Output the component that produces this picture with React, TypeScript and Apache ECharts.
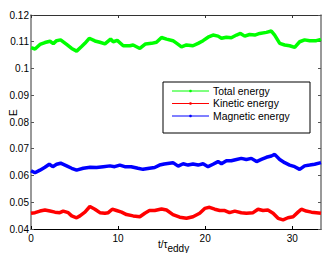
import React, { useEffect, useRef } from "react";
import * as echarts from "echarts";

const xTicks = [0, 10, 20, 30];
const yTicks = [0.04, 0.05, 0.06, 0.07, 0.08, 0.09, 0.1, 0.11, 0.12];
const seriesNames = ["Total energy", "Kinetic energy", "Magnetic energy"];
const seriesColors = ["#00ff00", "#ff0000", "#0000ff"];

const totalT = [0,0.46,1.03,1.6,2.18,2.56,2.94,3.4,4.09,4.67,5.24,5.81,6.19,6.69,7.34,7.91,8.49,9.14,9.44,9.9,10.59,11.35,11.73,12.5,13.15,13.84,14.41,14.99,15.56,16.3,16.9,17.28,17.85,18.6,19.19,19.76,20.33,20.9,21.48,21.87,22.44,23.0,23.6,24.05,24.54,25.1,25.7,26.26,27.03,27.6,27.98,28.56,29.13,29.7,30.28,30.85,31.42,32,32.76,33.3];
const totalE = [0.1078,0.1073,0.1090,0.1097,0.1102,0.1093,0.1104,0.1107,0.1090,0.1075,0.1065,0.1082,0.1094,0.1113,0.1103,0.1098,0.1092,0.1110,0.1100,0.1105,0.1085,0.1085,0.1088,0.1075,0.1092,0.1094,0.1098,0.1116,0.1110,0.1104,0.1090,0.1081,0.1088,0.1085,0.1094,0.1104,0.1117,0.1125,0.1121,0.1113,0.1117,0.1115,0.1125,0.1131,0.1121,0.1127,0.1125,0.1131,0.1135,0.1140,0.1125,0.1094,0.1088,0.1085,0.1079,0.1100,0.1107,0.1104,0.1104,0.1109];

const kineticT = [0,0.46,1.03,1.6,2.18,2.75,3.3,3.7,4.28,4.67,5.24,5.62,6.19,6.76,7.34,7.91,8.49,8.87,9.33,9.82,10.4,10.97,11.73,12.5,13.07,13.6,14.2,14.99,15.56,16.3,17.08,17.85,18.6,19.37,19.95,20.5,21.1,21.67,22.25,22.8,23.4,24.15,24.73,25.5,26.07,26.64,27.2,27.8,28.37,28.95,29.5,30.1,30.66,31.04,31.6,32.2,32.76,33.3];
const kineticE = [0.0459,0.0461,0.0467,0.0471,0.0467,0.0463,0.0461,0.0467,0.0461,0.0449,0.0442,0.0449,0.0463,0.0484,0.0474,0.0461,0.0459,0.0461,0.0474,0.0469,0.0463,0.0454,0.0449,0.0446,0.0459,0.0469,0.0469,0.0475,0.0471,0.0454,0.0444,0.0440,0.0446,0.0459,0.0477,0.0481,0.0474,0.0469,0.0469,0.0461,0.0467,0.0461,0.0459,0.0461,0.0474,0.0469,0.0471,0.0459,0.0440,0.0434,0.0442,0.0446,0.0463,0.0474,0.0467,0.0463,0.0461,0.0459];

const magneticT = [0,0.46,1.03,1.6,2.1,2.5,2.94,3.4,4.09,4.67,5.24,6,6.8,7.53,8.3,9.07,9.6,10.2,10.77,11.5,12.28,12.86,13.6,14.2,14.76,15.3,16.3,16.9,17.47,18.04,18.6,19.19,19.76,20.33,20.9,21.48,21.87,22.44,23.0,23.6,24.15,24.73,25.3,25.9,26.45,27.03,27.6,27.98,28.56,29.13,29.7,30.28,30.85,31.42,32,32.57,33.3];
const magneticE = [0.0618,0.0610,0.0620,0.0631,0.0642,0.0633,0.0642,0.0646,0.0636,0.0627,0.0620,0.0627,0.0631,0.0630,0.0633,0.0636,0.0633,0.0639,0.0633,0.0633,0.0627,0.0623,0.0627,0.0630,0.0639,0.0643,0.0648,0.0635,0.0644,0.0639,0.0643,0.0639,0.0644,0.0633,0.0642,0.0652,0.0644,0.0655,0.0655,0.0660,0.0664,0.0660,0.0664,0.0652,0.0660,0.0668,0.0673,0.0679,0.0660,0.0648,0.0639,0.0633,0.0623,0.0636,0.0639,0.0642,0.0648];

const FONT = "Liberation Sans, Arial, Helvetica, sans-serif";

function pairs(t: number[], e: number[]) {
  return t.map((v, i) => [v, e[i]]);
}

export default function App() {
  const ref = useRef<HTMLDivElement>(null);
  useEffect(() => {
    if (!ref.current) return;
    const chart = echarts.init(ref.current, null, { renderer: "svg" });
    const data = [pairs(totalT, totalE), pairs(kineticT, kineticE), pairs(magneticT, magneticE)];

    const legendX = 163, legendY = 82, legendW = 147, legendH = 51;
    const legendEls: any[] = [
      {
        type: "rect",
        shape: { x: legendX, y: legendY, width: legendW, height: legendH },
        style: { fill: "#ffffff", stroke: "#000000", lineWidth: 1 },
        z: 100,
      },
    ];
    seriesNames.forEach((name, i) => {
      const y = legendY + 9 + i * 12.5;
      legendEls.push({
        type: "line",
        shape: { x1: 172, y1: y, x2: 209, y2: y },
        style: { stroke: seriesColors[i], lineWidth: 1 },
        z: 101,
      });
      legendEls.push({
        type: "circle",
        shape: { cx: 190.5, cy: y, r: 1.3 },
        style: { fill: seriesColors[i] },
        z: 101,
      });
      legendEls.push({
        type: "text",
        x: 213,
        y: y,
        style: {
          text: name,
          fill: "#000",
          font: `10.4px ${FONT}`,
          textVerticalAlign: "middle",
          verticalAlign: "middle",
        },
        z: 101,
      });
    });

    chart.setOption({
      animation: false,
      backgroundColor: "#ffffff",
      grid: { left: 31, top: 15, right: 11, bottom: 24, containLabel: false },
      xAxis: [
        {
          type: "value",
          min: 0,
          max: 33.3,
          interval: 10,
          axisLine: { show: true, onZero: false, lineStyle: { color: "#000", width: 1 } },
          axisTick: { show: true, inside: true, length: 3, lineStyle: { color: "#000" }, customValues: xTicks },
          axisLabel: { color: "#000", fontSize: 10, fontFamily: FONT, margin: 4, customValues: xTicks },
          splitLine: { show: false },
        },
        {
          type: "value",
          position: "top",
          min: 0,
          max: 33.3,
          interval: 10,
          axisLine: { show: true, onZero: false, lineStyle: { color: "#333", width: 1 } },
          axisTick: { show: true, inside: true, length: 3, lineStyle: { color: "#333" }, customValues: xTicks },
          axisLabel: { show: false },
          splitLine: { show: false },
        },
      ],
      yAxis: [
        {
          type: "value",
          min: 0.04,
          max: 0.12,
          interval: 0.01,
          axisLine: { show: true, onZero: false, lineStyle: { color: "#777", width: 1.5 } },
          axisTick: { show: true, inside: true, length: 3, lineStyle: { color: "#555" } },
          axisLabel: { color: "#000", fontSize: 10, fontFamily: FONT, margin: 2, formatter: (v: number) => String(Math.round(v * 100) / 100) },
          splitLine: { show: false },
        },
        {
          type: "value",
          position: "right",
          min: 0.04,
          max: 0.12,
          interval: 0.01,
          axisLine: { show: true, onZero: false, lineStyle: { color: "#777", width: 1.5 } },
          axisTick: { show: true, inside: true, length: 3, lineStyle: { color: "#555" } },
          axisLabel: { show: false },
          splitLine: { show: false },
        },
      ],
      series: seriesNames.map((name, i) => ({
        name,
        type: "line",
        data: data[i],
        showSymbol: false,
        symbol: "none",
        lineStyle: { color: seriesColors[i], width: 3.5 },
        itemStyle: { color: seriesColors[i] },
        z: 3,
      })),
      graphic: [
        ...legendEls,
        {
          type: "text",
          x: 158,
          y: 235,
          style: {
            text: "t/τ{sub|eddy}",
            fill: "#000",
            font: `10px ${FONT}`,
            rich: {
              sub: { fontSize: 10, fontFamily: FONT, fill: "#000", padding: [8, 0, 0, 0] },
            },
          },
        },
        {
          type: "text",
          x: 8,
          y: 116,
          rotation: Math.PI / 2,
          style: {
            text: "E",
            fill: "#000",
            font: `10px ${FONT}`,
            verticalAlign: "top",
          },
        },
      ],
    });
    return () => chart.dispose();
  }, []);
  return (
    <div
      ref={ref}
      style={{ position: "fixed", left: 0, top: 0, width: 332, height: 253, background: "#fff" }}
    />
  );
}
